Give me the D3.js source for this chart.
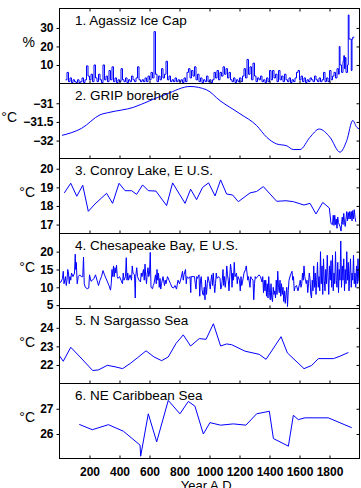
<!DOCTYPE html>
<html>
<head>
<meta charset="utf-8">
<script src="https://cdn.jsdelivr.net/npm/d3@7"></script>
<style>
body { margin: 0; background: #fff; }
svg { display: block; font-family: "Liberation Sans", Arial, sans-serif; }
</style>
</head>
<body>
<div class="chart"></div>
<script>
////////// data /////////
var xTicks = [200, 400, 600, 800, 1000, 1200, 1400, 1600, 1800];

var titles = ['1. Agassiz Ice Cap', '2. GRIP borehole', '3. Conroy Lake, E U.S.',
  '4. Chesapeake Bay, E U.S.', '5. N Sargasso Sea', '6. NE Caribbean Sea'];
var units = ['%', '°C', '°C', '°C', '°C', '°C'];
var yDomains = [[0, 40.5], [-32.48, -30.47], [16.52, 20.55], [4.05, 25.1], [21.0, 25.04], [25.03, 28.0]];
var yTicks = [[10, 20, 30], [-32, -31.5, -31], [17, 18, 19, 20], [5, 10, 15, 20], [22, 23, 24], [26, 27]];

// 1. Agassiz ice cap melt (%)
var agassiz = [[40,2],[50,6],[60,1],[70,3],[80,0.5],[90,2],[100,1],[110,0.5],[120,2],[130,0.5],[140,1],[150,3],
  [160,0.5],[170,2],[180,9.5],[190,4],[200,2],[210,5],[220,1],[230,10],[240,3],[250,1],[260,5],[270,2],[280,0.5],
  [290,10],[300,2],[310,4],[320,1],[330,7],[340,2],[350,9],[360,1],[370,3],[380,0.5],[390,2],[400,1],[410,8],
  [420,2],[430,1],[440,3],[450,0.5],[460,2],[470,1],[480,4],[490,2],[500,1],[510,3],[520,9],[530,2],[540,1],
  [550,2],[560,1],[570,3],[580,1],[590,4],[600,2],[610,6],[620,3],[630,28],[640,5],[650,1],[660,4],[670,2],
  [680,8],[690,3],[700,5],[710,12],[720,2],[730,4],[740,1],[750,2],[760,1],[770,3],[780,1],[790,2],[800,1],
  [810,2],[820,0.5],[830,3],[840,1],[850,6],[860,8],[870,3],[880,7],[890,4],[900,9],[910,2],[920,5],[930,1],
  [940,3],[950,0.5],[960,2],[970,1],[980,4],[990,1],[1000,2],[1010,0.5],[1020,2],[1030,6],[1040,3],[1050,7],
  [1060,2],[1070,6],[1080,4],[1090,9],[1100,5],[1110,8],[1120,3],[1130,6],[1140,2],[1150,1],[1160,3],[1170,0.5],
  [1180,2],[1190,1],[1200,3],[1210,1],[1220,4],[1230,8],[1240,3],[1250,13],[1260,5],[1270,9],[1280,2],[1290,11],
  [1300,4],[1310,1],[1320,3],[1330,2],[1340,4],[1350,1],[1360,2],[1370,0.5],[1380,3],[1390,1],[1400,7],[1410,2],
  [1420,7],[1430,3],[1440,5],[1450,1],[1460,7],[1470,2],[1480,4],[1490,1],[1500,5],[1510,2],[1520,1],[1530,3],
  [1540,0.5],[1550,2],[1560,1],[1570,3],[1580,6],[1590,7],[1600,2],[1610,4],[1620,1],[1630,3],[1640,0.5],[1650,2],
  [1660,1],[1670,3],[1680,2],[1690,1],[1700,4],[1710,2],[1720,1],[1730,3],[1740,1],[1750,2],[1760,6],[1770,1],
  [1780,3],[1790,1],[1800,7],[1810,2],[1820,4],[1830,6],[1840,3],[1850,8],[1860,5],[1865,20],[1870,10],[1880,6],
  [1890,12],[1895,15],[1900,8],[1905,14],[1910,6],[1920,10],[1925,37],[1930,24],[1940,24],[1945,7],[1950,24],
  [1955,25],[1965,25]];

// 2. GRIP borehole temperature (°C)
var grip = [[17,-31.86],[148,-31.67],[270,-31.31],[337,-31.24],[492,-31.11],[603,-30.93],[715,-30.75],[870,-30.55],
  [981,-30.64],[1070,-30.93],[1203,-31.28],[1315,-31.6],[1381,-31.91],[1448,-32.09],[1515,-32.14],[1559,-32.24],
  [1603,-32.24],[1670,-31.91],[1732,-31.69],[1803,-31.91],[1870,-32.31],[1915,-32.0],[1955,-31.46],[1981,-31.64],
  [2000,-31.69]];

// 3. Conroy Lake (°C)
var conroy = [[32,18.7],[75,19.22],[115,18.52],[155,19.11],[192,17.71],[237,18.11],[314,18.68],[354,18.14],
  [397,19.22],[437,18.82],[481,18.82],[514,18.62],[554,19.13],[592,18.82],[643,18.8],[714,18.02],[754,19.24],
  [837,18.14],[874,18.9],[914,18.34],[954,19.0],[994,19.24],[1037,18.54],[1074,19.4],[1114,18.64],[1154,18.59],
  [1192,18.23],[1270,18.7],[1314,18.78],[1359,19.04],[1448,18.25],[1510,18.28],[1559,18.23],[1630,18.05],
  [1670,18.14],[1710,17.57],[1755,18.19],[1799,17.89],[1810,17.05],[1820,17.0],[1825,17.5],[1830,16.95],
  [1835,17.5],[1840,17.0],[1845,17.3],[1850,16.8],[1855,17.4],[1860,17.1],[1870,16.9],[1877,16.65],[1880,17.0],
  [1885,17.4],[1890,17.0],[1895,17.6],[1900,17.1],[1905,16.9],[1910,17.3],[1915,17.7],[1920,17.2],[1925,17.65],
  [1930,17.3],[1935,17.7],[1940,17.3],[1945,17.7],[1950,17.2],[1955,17.75],[1960,17.3],[1965,17.8],[1970,17.4],
  [1975,17.15]];

// 4. Chesapeake Bay (°C)
var chesapeake = [[0,11.3],[10,11.5],[20,12.5],[25,14.5],[30,11],[40,13],[45,10.5],[50,12],[55,15],[60,14],[65,11],
  [70,13],[75,12],[80,14],[90,13],[100,14],[105,19.3],[108,15],[112,17],[118,11],[125,13],[135,13.5],[145,13],
  [155,13],[160,18.5],[165,11],[172,10],[185,9.6],[195,9.8],[200,13.5],[210,11.7],[220,12],[230,12.5],[240,13.5],
  [250,12],[260,10.5],[270,12],[280,13],[290,14.7],[300,13.5],[310,12.5],[320,11.5],[330,10.5],[340,9.2],[345,11],
  [350,15],[355,13],[360,16],[365,13],[370,15.5],[375,14],[380,16.2],[385,13],[390,12.5],[400,13],[410,12],
  [420,11],[425,14],[430,12],[440,13],[445,18.3],[450,12],[455,14],[460,12],[470,13.5],[480,12],[485,16],[490,14],
  [500,13.5],[505,7],[508,13],[515,15.5],[520,13],[530,12],[540,11.5],[545,14],[550,13],[560,15],[565,12],
  [570,16.5],[575,13],[580,11],[585,14],[590,15.5],[595,13],[600,14],[605,19.8],[610,10],[620,9.6],[625,10.5],
  [630,11],[640,13.5],[645,11],[650,15],[655,12],[660,14],[665,10],[670,12.5],[675,9.5],[680,11],[690,13],
  [700,10.5],[705,12],[710,11],[720,13],[730,12],[740,11],[750,10],[760,9.8],[770,10.5],[780,9.5],[790,12],
  [800,11],[810,12.5],[820,14.5],[825,12],[830,13.5],[840,15],[845,11],[850,13],[860,12.5],[870,13],[875,8.5],
  [878,13],[890,13],[900,13],[905,11],[910,9.5],[915,13],[920,12.5],[930,13.5],[935,7.5],[940,12],[945,13],
  [950,9.5],[955,8],[960,7.8],[965,10],[970,6.5],[973,12],[980,8],[985,11],[990,13],[995,12],[1000,11],[1005,9.5],
  [1010,12],[1015,13.5],[1020,10.5],[1025,14],[1030,11],[1035,8.5],[1040,11],[1045,14],[1050,12.5],[1060,13],
  [1070,12.5],[1075,9.5],[1080,10],[1085,12],[1090,15],[1095,10.5],[1100,13],[1105,10],[1110,12],[1115,16],
  [1120,13.5],[1125,12],[1130,9],[1135,13],[1140,16.5],[1145,15],[1150,10],[1155,14],[1160,12],[1165,17],
  [1170,13],[1180,14],[1185,11],[1190,13],[1200,12],[1205,9],[1210,13],[1215,10.5],[1220,11.5],[1230,14],
  [1240,15],[1245,16],[1250,14],[1255,12],[1260,13],[1270,10],[1275,13],[1280,12.5],[1290,12],[1295,6.5],
  [1300,11],[1305,13],[1310,12.5],[1320,13],[1330,13.5],[1340,13],[1350,11.5],[1355,13],[1360,8.5],[1365,12],
  [1370,9],[1375,12],[1380,7.5],[1385,11],[1390,7],[1395,13],[1400,8.5],[1405,6.5],[1410,11],[1415,7],[1420,6],
  [1425,10],[1430,8],[1435,9],[1440,7],[1445,12],[1450,8],[1455,14.5],[1460,10],[1465,8.5],[1470,12],[1475,7.5],
  [1480,11],[1485,8],[1490,10],[1495,6],[1500,9],[1505,5.5],[1510,8],[1515,10],[1520,4.6],[1525,9],[1530,12],
  [1540,13.5],[1550,14.5],[1555,12],[1560,13],[1565,9],[1570,10],[1580,10.5],[1590,9],[1600,11],[1605,12],
  [1610,10],[1615,11],[1620,14],[1625,12],[1630,16],[1635,13],[1640,12],[1645,11],[1650,12],[1655,8.5],[1660,11],
  [1665,14],[1670,12.5],[1675,8],[1680,7],[1685,12],[1690,9],[1695,16],[1700,10],[1705,14],[1710,8],[1715,12],
  [1720,17],[1725,10],[1730,13],[1735,9],[1740,20],[1745,11],[1750,16],[1755,8],[1760,18],[1765,12],[1770,9],
  [1775,15],[1780,11],[1785,19],[1790,13],[1795,8],[1800,16],[1805,12],[1810,17.5],[1815,10],[1820,19],[1825,9],
  [1830,14],[1835,11],[1840,20],[1845,12],[1850,10],[1855,17],[1860,8.5],[1865,15],[1870,12],[1875,23],[1880,10],
  [1885,16],[1890,12],[1895,18],[1900,9],[1905,15],[1910,11],[1915,20],[1920,12],[1925,17],[1930,9],[1935,14],
  [1940,18],[1945,10],[1950,14],[1955,12],[1960,19],[1965,11],[1970,14],[1975,10],[1980,16],[1985,11],[1990,18],
  [1995,12],[2000,11]];

// 5. N Sargasso Sea (°C)
var sargasso = [[0,22.49],[25,22.2],[75,22.95],[137,22.43],[221,21.7],[259,21.73],[319,21.98],[370,21.9],
  [421,21.8],[475,22.1],[519,22.38],[577,22.76],[630,22.43],[681,22.23],[725,22.43],[777,23.16],[825,23.62],
  [874,23.02],[932,23.42],[977,23.38],[1026,24.22],[1074,23.02],[1114,23.13],[1148,23.09],[1237,22.74],
  [1332,22.57],[1377,22.3],[1477,23.52],[1519,22.65],[1630,21.8],[1681,21.97],[1726,22.34],[1826,22.34],
  [1870,22.47],[1926,22.67]];

// 6. NE Caribbean Sea (°C)
var caribbean = [[132,26.38],[219,26.17],[326,26.37],[426,26.11],[537,25.56],[541,25.12],[592,26.8],[648,25.69],
  [725,27.33],[803,26.8],[859,27.29],[903,27.1],[959,26.0],[1003,26.45],[1074,26.35],[1159,26.4],[1243,26.35],
  [1314,26.8],[1399,26.9],[1426,25.82],[1526,25.52],[1559,26.74],[1592,26.57],[1637,26.64],[1792,26.64],
  [1948,26.25]];

var series = [agassiz, grip, conroy, chesapeake, sargasso, caribbean];
var curves = [d3.curveStepAfter, d3.curveMonotoneX, d3.curveLinear, d3.curveLinear, d3.curveLinear, d3.curveLinear];

////////// layout /////////
var W = 361, H = 488;
var plotLeft = 59.5, plotRight = 359.5, plotTop = 8.5, ph = 75;

var svg = d3.select('.chart').append('svg')
  .attr('width', W)
  .attr('height', H);

var x = d3.scaleLinear().domain([0, 2000]).range([plotLeft, plotRight]);

series.forEach(function(data, i) {
  var y0 = plotTop + i * ph, y1 = y0 + ph;
  var y = d3.scaleLinear().domain(yDomains[i]).range([y1, y0]);
  var g = svg.append('g').attr('class', 'panel');

  g.append('clipPath').attr('id', 'clip' + i)
    .append('rect')
    .attr('x', plotLeft).attr('y', y0)
    .attr('width', plotRight - plotLeft).attr('height', ph);

  var line = d3.line()
    .x(function(d) { return x(d[0]); })
    .y(function(d) { return y(d[1]); })
    .curve(curves[i]);

  g.append('path')
    .datum(data)
    .attr('clip-path', 'url(#clip' + i + ')')
    .attr('d', line)
    .style('fill', 'none')
    .style('stroke', '#0000ff')
    .style('stroke-width', 1)
    .style('stroke-linejoin', 'round');

  // left axis, ticks out
  g.append('g')
    .attr('transform', 'translate(' + plotLeft + ',0)')
    .call(d3.axisLeft(y).tickValues(yTicks[i]).tickSize(3).tickPadding(3)
      .tickFormat(function(d) { return String(d).replace('-', '\u2212'); }))
    .call(function(a) {
      a.select('.domain').remove();
      a.selectAll('text').style('font-size', '12px').style('font-weight', 'bold')
        .style('fill', '#000').style('font-family', '"Liberation Sans", Arial, sans-serif');
    });

  // right axis, ticks in
  g.append('g')
    .attr('transform', 'translate(' + plotRight + ',0)')
    .call(d3.axisLeft(y).tickValues(yTicks[i]).tickSize(3).tickFormat(''))
    .call(function(a) { a.select('.domain').remove(); });

  // bottom ticks in
  g.append('g')
    .attr('transform', 'translate(0,' + y1 + ')')
    .call(d3.axisTop(x).tickValues(xTicks).tickSize(3).tickFormat(''))
    .call(function(a) { a.select('.domain').remove(); });

  if (i === 0) {
    g.append('g')
      .attr('transform', 'translate(0,' + y0 + ')')
      .call(d3.axisBottom(x).tickValues(xTicks).tickSize(3).tickFormat(''))
      .call(function(a) { a.select('.domain').remove(); });
  }

  g.append('rect')
    .attr('x', plotLeft).attr('y', y0)
    .attr('width', plotRight - plotLeft).attr('height', ph)
    .style('fill', 'none')
    .style('stroke', '#000')
    .style('stroke-width', 1);

  g.append('text')
    .attr('x', 75)
    .attr('y', y0 + 16.5)
    .text(titles[i])
    .style('font-size', '13.5px')
    .style('fill', '#000');

  g.append('text')
    .attr('x', i === 1 ? 17 : 35)
    .attr('y', y0 + ph / 2 + 1)
    .attr('text-anchor', 'end')
    .text(units[i])
    .style('font-size', '14px')
    .style('fill', '#000');
});

// bottom tick labels
var yb = plotTop + 6 * ph;
svg.append('g')
  .attr('transform', 'translate(0,' + yb + ')')
  .call(d3.axisBottom(x).tickValues(xTicks).tickSize(0).tickPadding(9).tickFormat(d3.format('d')))
  .call(function(a) {
    a.select('.domain').remove();
    a.selectAll('text').style('font-size', '12px').style('font-weight', 'bold')
      .style('fill', '#000').style('font-family', '"Liberation Sans", Arial, sans-serif');
  });

svg.append('text')
  .attr('x', 208)
  .attr('y', 490)
  .attr('text-anchor', 'middle')
  .text('Year A.D.')
  .style('font-size', '13px')
  .style('fill', '#000');
</script>
</body>
</html>
